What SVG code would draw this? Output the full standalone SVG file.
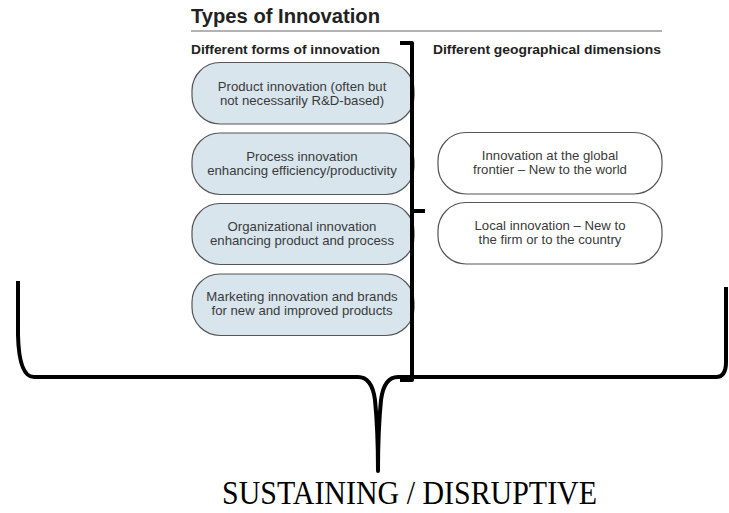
<svg xmlns="http://www.w3.org/2000/svg" width="729" height="513" viewBox="0 0 729 513">
<style>
.title{font-family:"Liberation Sans",Arial,sans-serif;font-weight:bold;font-size:20px;fill:#222}
.sub{font-family:"Liberation Sans",Arial,sans-serif;font-weight:bold;font-size:12.5px;fill:#222}
.bt{font-family:"Liberation Sans",Arial,sans-serif;font-size:13.2px;fill:#3a3a3a;text-anchor:middle}
.blue{fill:#d8e5ed;stroke:#555;stroke-width:1.2}
.white{fill:#fff;stroke:#555;stroke-width:1.2}
.brace{fill:none;stroke:#000;stroke-width:4;stroke-linejoin:round}
.foot{font-family:"Liberation Serif","Times New Roman",serif;font-size:34px;fill:#000}
</style>
<rect width="729" height="513" fill="#fff"/>
<text class="title" x="191" y="23" textLength="189" lengthAdjust="spacingAndGlyphs">Types of Innovation</text>
<line x1="191" y1="31" x2="662" y2="31" stroke="#666" stroke-width="1"/>
<text class="sub" x="191" y="53.5" textLength="189" lengthAdjust="spacingAndGlyphs">Different forms of innovation</text>
<text class="sub" x="433" y="53.5" textLength="228" lengthAdjust="spacingAndGlyphs">Different geographical dimensions</text>

<g id="node-product">
<rect class="blue" x="192" y="62.5" width="222" height="61.5" rx="28"/>
<text class="bt" x="302" y="90.5">Product innovation (often but</text>
<text class="bt" x="302" y="104.5">not necessarily R&amp;D-based)</text>
</g>
<g id="node-process">
<rect class="blue" x="192" y="133" width="222" height="61.5" rx="28"/>
<text class="bt" x="302" y="160.5">Process innovation</text>
<text class="bt" x="302" y="174.5">enhancing efficiency/productivity</text>
</g>
<g id="node-organizational">
<rect class="blue" x="192" y="203.5" width="222" height="61" rx="28"/>
<text class="bt" x="302" y="231">Organizational innovation</text>
<text class="bt" x="302" y="245">enhancing product and process</text>
</g>
<g id="node-marketing">
<rect class="blue" x="192" y="274" width="222" height="61.5" rx="28"/>
<text class="bt" x="302" y="301">Marketing innovation and brands</text>
<text class="bt" x="302" y="315">for new and improved products</text>
</g>
<g id="node-global">
<rect class="white" x="438" y="132.5" width="224" height="61.5" rx="28"/>
<text class="bt" x="550" y="160">Innovation at the global</text>
<text class="bt" x="550" y="174">frontier – New to the world</text>
</g>
<g id="node-local">
<rect class="white" x="438" y="202.5" width="224" height="61.5" rx="28"/>
<text class="bt" x="550" y="230">Local innovation – New to</text>
<text class="bt" x="550" y="244">the firm or to the country</text>
</g>

<g id="connectors">
<path class="brace" d="M400 43 H412 V380 H400"/>
<path class="brace" d="M412 211 H425"/>
<path class="brace" d="M18 281 V335 Q19 377 34 377 H358 Q372 377 375 400 Q378 430 378 471 Q378 430 381 400 Q384 377 398 377 H716 Q726 377 726 362 V287"/>
</g>

<text class="foot" x="222" y="504" textLength="375" lengthAdjust="spacingAndGlyphs">SUSTAINING / DISRUPTIVE</text>
</svg>
